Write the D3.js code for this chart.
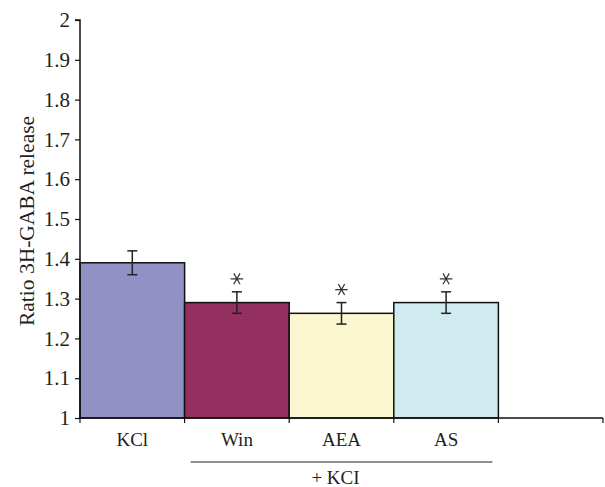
<!DOCTYPE html>
<html><head><meta charset="utf-8">
<script src="https://cdn.jsdelivr.net/npm/d3@7"></script>
<style>body{margin:0;background:#fff}svg{display:block}text{font-family:"Liberation Serif","DejaVu Serif",serif;fill:#231f20}</style>
</head><body><svg id="c" width="605" height="487"></svg>
<script>
const categories = ["KCl","Win","AEA","AS",""];
const values = [1.39, 1.29, 1.263, 1.29];
const errors = [0.03, 0.027, 0.027, 0.027];
const stars = [false, true, true, true];
const colors = ["#9191c5","#933060","#faf6cf","#cfebef"];
const yTicks = [1,1.1,1.2,1.3,1.4,1.5,1.6,1.7,1.8,1.9,2];
const groupLabel = "+ KCI";
const yLabel = "Ratio 3H-GABA release";

const svg = d3.select("#c");
const m = {l:80, r:603, t:20, b:418};
const x = d3.scaleBand().domain(categories.map((c,i)=>i)).range([m.l, m.r]).padding(0);
const y = d3.scaleLinear().domain([1,2]).range([m.b, m.t]);

// bars
svg.append("g").selectAll("rect").data(values).join("rect")
  .attr("x",(d,i)=>x(i)).attr("width",x.bandwidth())
  .attr("y",d=>y(d)).attr("height",d=>y(1)-y(d))
  .attr("fill",(d,i)=>colors[i]).attr("stroke","#111").attr("stroke-width",1.5);

// error bars
const eg = svg.append("g").attr("stroke","#222").attr("stroke-width",1.5);
const star = d3.symbol(d3.symbolAsterisk, 110);
values.forEach((v,i)=>{
  const cx = x(i)+x.bandwidth()/2;
  eg.append("line").attr("x1",cx).attr("x2",cx).attr("y1",y(v+errors[i])).attr("y2",y(v-errors[i]));
  eg.append("line").attr("x1",cx-5).attr("x2",cx+5).attr("y1",y(v+errors[i])).attr("y2",y(v+errors[i]));
  eg.append("line").attr("x1",cx-5).attr("x2",cx+5).attr("y1",y(v-errors[i])).attr("y2",y(v-errors[i]));
  if(stars[i]) svg.append("path").attr("d",star()).attr("transform",`translate(${cx},${y(v+errors[i])-13}) rotate(90)`)
    .attr("fill","none").attr("stroke","#333").attr("stroke-width",1.2);
});

// y axis
const ya = svg.append("g").attr("transform",`translate(${m.l},0)`)
  .call(d3.axisLeft(y).tickValues(yTicks).tickFormat(d=>String(+d.toFixed(1))).tickSize(5).tickPadding(5));
ya.attr("font-size",null).attr("font-family",null);
ya.select(".domain").attr("stroke","#111").attr("stroke-width",1.5).attr("d",`M-5,${m.t}H0V${m.b}`);
ya.selectAll(".tick line").attr("stroke","#111").attr("stroke-width",1.2);
ya.selectAll(".tick text").style("font-size","21px").attr("fill","#231f20");

// x axis
const xa = svg.append("g").attr("transform",`translate(0,${m.b})`)
  .call(d3.axisBottom(x).tickFormat((d)=>categories[d]).tickSize(0).tickPadding(15));
xa.attr("font-size",null).attr("font-family",null);
xa.select(".domain").attr("stroke","#111").attr("stroke-width",1.5).attr("d",`M${m.l},0H${m.r}`);
xa.selectAll(".tick text").style("font-size","19px").attr("fill","#231f20");
// boundary ticks
const bounds = categories.map((c,i)=>x(i)).concat([x(categories.length-1)+x.bandwidth()]);
svg.append("g").selectAll("line").data(bounds).join("line")
  .attr("x1",d=>d).attr("x2",d=>d).attr("y1",m.b).attr("y2",m.b+5)
  .attr("stroke","#111").attr("stroke-width",1.2);

// group line + label
const gx1 = x(1)+6, gx2 = x(3)+x.bandwidth()-6;
svg.append("line").attr("x1",gx1).attr("x2",gx2).attr("y1",462).attr("y2",462).attr("stroke","#222").attr("stroke-width",1.2);
svg.append("text").attr("x",(gx1+gx2)/2-6).attr("y",484).attr("text-anchor","middle").style("font-size","19px").text(groupLabel);

// y label
svg.append("text").attr("transform",`translate(34,221) rotate(-90)`).attr("text-anchor","middle").style("font-size","21.5px").text(yLabel);
</script></body></html>
